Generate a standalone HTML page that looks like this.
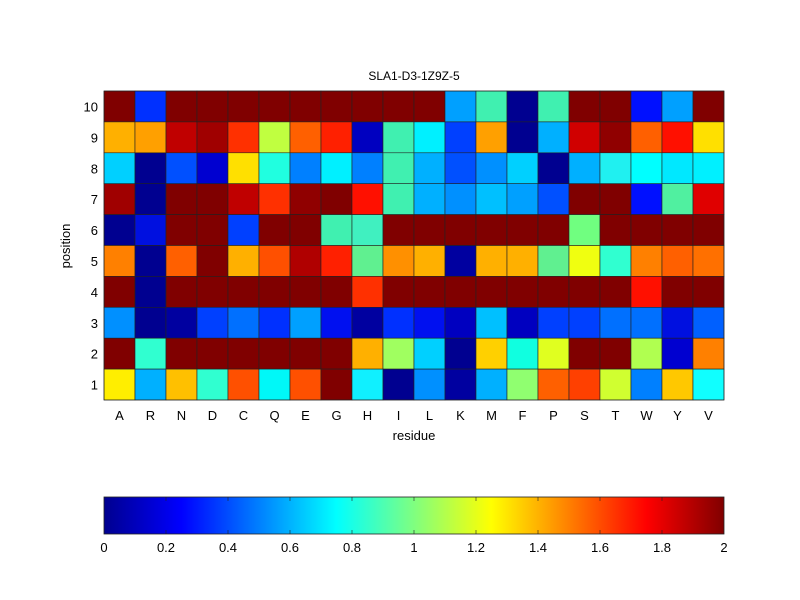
<!DOCTYPE html>
<html><head><style>body{margin:0;background:#fff}svg{display:block}</style></head><body>
<svg width="800" height="600" xmlns="http://www.w3.org/2000/svg" font-family="Liberation Sans, sans-serif">
<rect width="800" height="600" fill="#fff"/>
<g id="cells" stroke="#222" stroke-width="0.6"></g>
<text x="414" y="80" font-size="12" text-anchor="middle">SLA1-D3-1Z9Z-5</text>
<text x="414" y="440" font-size="13" text-anchor="middle">residue</text>
<text transform="translate(70,246) rotate(-90)" font-size="13" text-anchor="middle">position</text>
<g id="labels" font-size="13"></g>
<defs><linearGradient id="jet" x1="0" x2="1" y1="0" y2="0">
<stop offset="0" stop-color="#00008f"/><stop offset="0.125" stop-color="#0000ff"/><stop offset="0.375" stop-color="#00ffff"/><stop offset="0.625" stop-color="#ffff00"/><stop offset="0.875" stop-color="#ff0000"/><stop offset="1" stop-color="#800000"/></linearGradient></defs>
<rect x="104" y="497" width="620" height="37" fill="url(#jet)" stroke="#222" stroke-width="0.8"/>
<g id="cb" font-size="13"></g>
<script>
const C="A R N D C Q E G H I L K M F P S T W Y V".split(" ");
const d="#800000";
const rows={
10:[d,"#0030ff",d,d,d,d,d,d,d,d,d,"#00a0ff","#40f0b0","#000090","#40f0b0",d,d,"#0010ff","#00a0ff",d],
9:["#ffb000","#ffa000","#c00000","#a00000","#ff3000","#c0ff40","#ff6000","#ff2000","#0000c0","#40f0b0","#00f0ff","#0040ff","#ffa000","#000090","#00b0ff","#d00000","#900000","#ff6000","#ff1000","#ffe000"],
8:["#00d0ff","#000090","#0050ff","#0000d0","#ffe000","#20ffe0","#0080ff","#00f0ff","#0080ff","#40f0b0","#00b0ff","#0050ff","#0090ff","#00d0ff","#000090","#00b0ff","#20f0f0","#00ffff","#00e8ff","#00f0ff"],
7:["#a00000","#000090",d,d,"#c00000","#ff3000","#900000",d,"#ff1000","#40f0b0","#00b0ff","#0090ff","#00c0ff","#00a0ff","#0050ff",d,d,"#0010ff","#50f0a0","#e00000"],
6:["#000090","#0010e0",d,d,"#0040ff",d,d,"#40f0b0","#40f0c0",d,d,d,d,d,d,"#70ff80",d,d,d,d],
5:["#ff8000","#000090","#ff6000",d,"#ffb000","#ff5000","#b00000","#ff2000","#60f090","#ff9000","#ffb000","#0000a0","#ffb000","#ffb000","#60f090","#f0ff10","#30ffd0","#ff8000","#ff6000","#ff7000"],
4:[d,"#000090",d,d,d,d,d,d,"#ff3000",d,d,d,d,d,d,d,d,"#ff1000",d,d],
3:["#0090ff","#000090","#0000a0","#0040ff","#0070ff","#0030ff","#00a0ff","#0010f0","#0000a0","#0030ff","#0010f0","#0000c0","#00c0ff","#0000c0","#0040ff","#0040ff","#0070ff","#0070ff","#0010e0","#0060ff"],
2:[d,"#30ffd0",d,d,d,d,d,d,"#ffb000","#a0ff60","#00d0ff","#000090","#ffd000","#10ffe0","#e0ff20",d,d,"#b0ff50","#0000d0","#ff8000"],
1:["#ffee00","#00b0ff","#ffc000","#30ffd0","#ff5000","#00f8f8","#ff5000",d,"#10f0ff","#000090","#0090ff","#0000a0","#00b0ff","#90ff70","#ff6000","#ff4000","#d0ff30","#0080ff","#ffc800","#10ffff"]};
const ns="http://www.w3.org/2000/svg";
const g=document.getElementById("cells"),L=document.getElementById("labels"),cb=document.getElementById("cb");
const x0=104,y0=91,w=31,h=30.9;
function el(p,t,a,txt){const e=document.createElementNS(ns,t);for(const k in a)e.setAttribute(k,a[k]);if(txt!=null)e.textContent=txt;p.appendChild(e);return e;}
for(let r=10;r>=1;r--){const y=y0+(10-r)*h;rows[r].forEach((c,i)=>el(g,"rect",{x:x0+i*w,y:y,width:w,height:h,fill:c}));
el(L,"text",{x:98,y:y+h/2+5,"text-anchor":"end"},r);}
C.forEach((c,i)=>el(L,"text",{x:x0+i*w+w/2,y:420,"text-anchor":"middle"},c));
el(g,"rect",{x:x0,y:y0,width:620,height:309,fill:"none"});
for(let i=0;i<=10;i++){const v=i*0.2,x=104+v/2*620;
if(i>0&&i<10){el(cb,"line",{x1:x,x2:x,y1:497,y2:501,stroke:"#222","stroke-width":0.6});el(cb,"line",{x1:x,x2:x,y1:530,y2:534,stroke:"#222","stroke-width":0.6});}
el(cb,"text",{x:x,y:552,"text-anchor":"middle"},i==0?"0":i==10?"2":i==5?"1":v.toFixed(1));}
</script>
</svg>
</body></html>
